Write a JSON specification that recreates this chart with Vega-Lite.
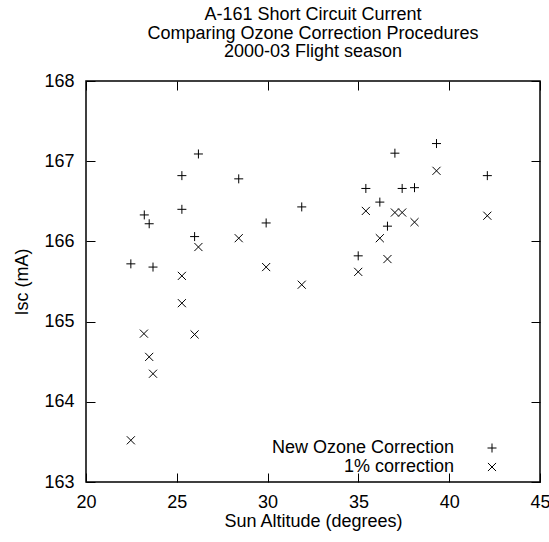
{
  "$schema": "https://vega.github.io/schema/vega-lite/v6.json",
  "width": 454,
  "height": 401,
  "autosize": "none",
  "padding": {"left": 86, "top": 81, "right": 9, "bottom": 60},
  "background": "#ffffff",
  "config": {
    "font": "Liberation Sans",
    "view": {"stroke": "#000000", "strokeWidth": 1.5},
    "axis": {
      "domain": false,
      "grid": false,
      "tickColor": "#000000",
      "tickWidth": 1,
      "tickSize": -9,
      "labelColor": "#000000",
      "labelFontSize": 18,
      "labelFont": "Liberation Sans",
      "titleColor": "#000000",
      "titleFontSize": 18,
      "titleFont": "Liberation Sans",
      "titleFontWeight": "normal"
    }
  },
  "title": {
    "text": ["A-161 Short Circuit Current", "Comparing Ozone Correction Procedures", "2000-03 Flight season"],
    "fontSize": 18,
    "fontWeight": "normal",
    "font": "Liberation Sans",
    "color": "#000000",
    "lineHeight": 18.5,
    "offset": 11,
    "anchor": "middle"
  },
  "data": {
    "values": [
      {"altitude": 22.47, "isc": 165.72, "method": "New Ozone Correction"},
      {"altitude": 23.21, "isc": 166.33, "method": "New Ozone Correction"},
      {"altitude": 23.48, "isc": 166.22, "method": "New Ozone Correction"},
      {"altitude": 23.69, "isc": 165.68, "method": "New Ozone Correction"},
      {"altitude": 25.28, "isc": 166.82, "method": "New Ozone Correction"},
      {"altitude": 25.28, "isc": 166.40, "method": "New Ozone Correction"},
      {"altitude": 25.98, "isc": 166.06, "method": "New Ozone Correction"},
      {"altitude": 26.19, "isc": 167.09, "method": "New Ozone Correction"},
      {"altitude": 28.41, "isc": 166.78, "method": "New Ozone Correction"},
      {"altitude": 29.92, "isc": 166.23, "method": "New Ozone Correction"},
      {"altitude": 31.88, "isc": 166.43, "method": "New Ozone Correction"},
      {"altitude": 34.99, "isc": 165.82, "method": "New Ozone Correction"},
      {"altitude": 35.41, "isc": 166.66, "method": "New Ozone Correction"},
      {"altitude": 36.18, "isc": 166.49, "method": "New Ozone Correction"},
      {"altitude": 36.60, "isc": 166.19, "method": "New Ozone Correction"},
      {"altitude": 37.01, "isc": 167.10, "method": "New Ozone Correction"},
      {"altitude": 37.41, "isc": 166.66, "method": "New Ozone Correction"},
      {"altitude": 38.09, "isc": 166.67, "method": "New Ozone Correction"},
      {"altitude": 39.30, "isc": 167.22, "method": "New Ozone Correction"},
      {"altitude": 42.10, "isc": 166.82, "method": "New Ozone Correction"},
      {"altitude": 22.47, "isc": 163.52, "method": "1% correction"},
      {"altitude": 23.19, "isc": 164.85, "method": "1% correction"},
      {"altitude": 23.48, "isc": 164.56, "method": "1% correction"},
      {"altitude": 23.69, "isc": 164.35, "method": "1% correction"},
      {"altitude": 25.28, "isc": 165.57, "method": "1% correction"},
      {"altitude": 25.28, "isc": 165.23, "method": "1% correction"},
      {"altitude": 25.98, "isc": 164.84, "method": "1% correction"},
      {"altitude": 26.19, "isc": 165.93, "method": "1% correction"},
      {"altitude": 28.41, "isc": 166.04, "method": "1% correction"},
      {"altitude": 29.92, "isc": 165.68, "method": "1% correction"},
      {"altitude": 31.88, "isc": 165.46, "method": "1% correction"},
      {"altitude": 34.99, "isc": 165.62, "method": "1% correction"},
      {"altitude": 35.41, "isc": 166.38, "method": "1% correction"},
      {"altitude": 36.18, "isc": 166.04, "method": "1% correction"},
      {"altitude": 36.60, "isc": 165.78, "method": "1% correction"},
      {"altitude": 37.01, "isc": 166.36, "method": "1% correction"},
      {"altitude": 37.41, "isc": 166.36, "method": "1% correction"},
      {"altitude": 38.09, "isc": 166.24, "method": "1% correction"},
      {"altitude": 39.30, "isc": 166.88, "method": "1% correction"},
      {"altitude": 42.10, "isc": 166.32, "method": "1% correction"}
    ]
  },
  "layer": [
    {
      "mark": {"type": "point", "filled": false, "stroke": "#000000", "strokeWidth": 1, "size": 81, "opacity": 1},
      "encoding": {
        "x": {
          "field": "altitude", "type": "quantitative",
          "scale": {"domain": [20, 45], "nice": false, "zero": false},
          "axis": {"orient": "bottom", "values": [20, 25, 30, 35, 40, 45], "format": "d", "labelPadding": 20, "title": "Sun Altitude (degrees)", "titlePadding": 1, "labelFlush": false}
        },
        "y": {
          "field": "isc", "type": "quantitative",
          "scale": {"domain": [163, 168], "nice": false, "zero": false},
          "axis": {"orient": "left", "values": [163, 164, 165, 166, 167, 168], "format": "d", "labelPadding": 21, "title": "Isc (mA)", "titlePadding": 12, "labelFlush": false}
        },
        "shape": {
          "field": "method", "type": "nominal",
          "scale": {"domain": ["New Ozone Correction", "1% correction"], "range": ["M-1,0L1,0M0,-1L0,1", "M-0.9,-0.9L0.9,0.9M-0.9,0.9L0.9,-0.9"]},
          "legend": {
            "orient": "none",
            "legendX": 397,
            "legendY": 358,
            "title": null,
            "labelFontSize": 18,
            "labelColor": "#000000",
            "labelFont": "Liberation Sans",
            "labelAlign": "right",
            "labelOffset": -47,
            "labelLimit": 400,
            "symbolStrokeColor": "#000000",
            "symbolFillColor": "transparent",
            "symbolStrokeWidth": 1,
            "symbolSize": 81,
            "rowPadding": 1
          }
        }
      }
    },
    {
      "mark": {"type": "point", "opacity": 0},
      "encoding": {
        "x": {"field": "altitude", "type": "quantitative", "axis": {"orient": "top", "values": [20, 25, 30, 35, 40, 45], "labels": false, "title": null}},
        "y": {"field": "isc", "type": "quantitative", "axis": {"orient": "right", "values": [163, 164, 165, 166, 167, 168], "labels": false, "title": null}}
      }
    }
  ],
  "resolve": {"axis": {"x": "independent", "y": "independent"}}
}
